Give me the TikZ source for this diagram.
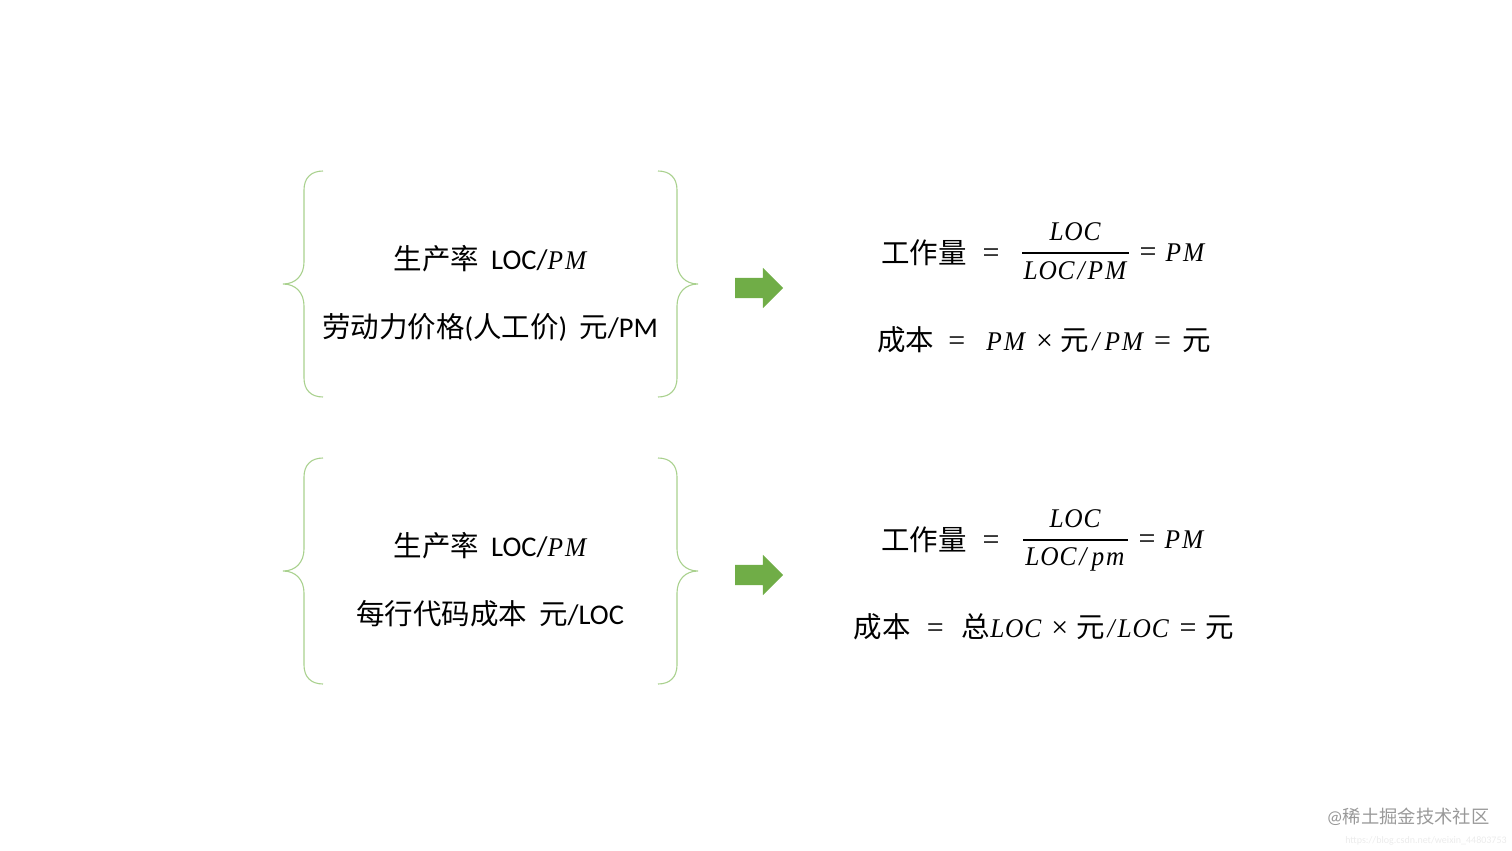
\documentclass[tikz,border=0pt]{standalone}
\usepackage{fontspec}
\setmainfont{Carlito}
\newfontfamily\cjk{Noto Sans CJK SC}
\newfontfamily\vfont[LetterSpace=3,FakeStretch=0.94]{Liberation Serif}
\newfontfamily\sfont{Liberation Serif}
\usepackage{tikz}
\usetikzlibrary{shapes.arrows}
\definecolor{bracegreen}{HTML}{A9D18E}
\definecolor{arrowgreen}{HTML}{70AD47}
\newcommand{\zh}[1]{{\cjk #1}}
\newcommand{\va}[1]{{\fontsize{27}{30}\selectfont\vfont\itshape #1}}
\newcommand{\sy}[1]{{\fontsize{30}{34}\selectfont\sfont #1}}
\newcommand{\slsh}{\hspace{3pt}/\hspace{3pt}}
\newcommand{\pmu}{P\hspace{2pt}M}
\tikzset{
    x=1pt, y=-1pt,
    brace/.style={draw=bracegreen, line width=1.1pt},
    txt/.style={inner sep=0pt, text=black, font=\fontsize{28.5}{34}\selectfont},
    bigarrow/.style={shape=single arrow, fill=arrowgreen, inner sep=0pt, minimum height=48pt, single arrow head extend=10pt, single arrow head indent=0pt}}

\begin{document}
\begin{tikzpicture}

            \useasboundingbox (0,0) rectangle (1512,851);

            % upper braces
            \draw[brace] (323,171) .. controls (311,171) and (304,178) .. (304,190) -- (304,262) .. controls (304,275) and (296,284) .. (283,284) .. controls (296,284) and (304,293) .. (304,306) -- (304,378) .. controls (304,390) and (311,397) .. (323,397);
            \draw[brace] (658,171) .. controls (670,171) and (677,178) .. (677,190) -- (677,262) .. controls (677,275) and (685,284) .. (698,284) .. controls (685,284) and (677,293) .. (677,306) -- (677,378) .. controls (677,390) and (670,397) .. (658,397);

            % lower braces
            \draw[brace] (323,458) .. controls (311,458) and (304,465) .. (304,477) -- (304,549) .. controls (304,562) and (296,571) .. (283,571) .. controls (296,571) and (304,580) .. (304,593) -- (304,665) .. controls (304,677) and (311,684) .. (323,684);
            \draw[brace] (658,458) .. controls (670,458) and (677,465) .. (677,477) -- (677,549) .. controls (677,562) and (685,571) .. (698,571) .. controls (685,571) and (677,580) .. (677,593) -- (677,665) .. controls (677,677) and (670,684) .. (658,684);

            \node[txt] (rateA) at (490,259) {\zh{生产率}\hspace{12pt}LOC/\va{\pmu}};
            \node[txt] (priceA) at (490,327) {\zh{劳动力价格}(\zh{人工价})\hspace{12pt}\zh{元}/PM};
            \node[txt] (rateB) at (490,546) {\zh{生产率}\hspace{12pt}LOC/\va{\pmu}};
            \node[txt] (priceB) at (490,614) {\zh{每行代码成本}\hspace{12pt}\zh{元}/LOC};

            \node[bigarrow] (arrowA) at (754,288) {\rule{0pt}{20pt}};
            \node[bigarrow] (arrowB) at (754,575) {\rule{0pt}{20pt}};

            \node[txt] (workA) at (924,253) {\zh{工作量}};
            \node[txt] (eqA) at (991,256) {\sy{=}};
            \node[txt] (numA) at (1075,232) {\va{LOC}};
            \node[txt] (denA) at (1075,271) {\va{LOC\slsh\pmu}};
            \node[txt] (resA) at (1172,253) {\sy{=}\hspace{9pt}\va{\pmu}};
            \coordinate (barAl) at (1022,253);
            \coordinate (barAr) at (1129,253);
            \draw[line width=1.3pt] (barAl) -- (barAr);
            \node[txt] (costA) at (1044,340) {\zh{成本}\hspace{14pt}\sy{=}\hspace{21pt}\va{\pmu}\hspace{11pt}\sy{×}\hspace{8pt}\zh{元}\va{\slsh\hspace{2pt}\pmu}\hspace{11pt}\sy{=}\hspace{11pt}\zh{元}};

            \node[txt] (workB) at (924,540) {\zh{工作量}};
            \node[txt] (eqB) at (991,543) {\sy{=}};
            \node[txt] (numB) at (1075,519) {\va{LOC}};
            \node[txt] (denB) at (1075,559) {\va{LOC\slsh\hspace{2pt}p\hspace{2pt}m}};
            \node[txt] (resB) at (1171,540) {\sy{=}\hspace{9pt}\va{\pmu}};
            \coordinate (barBl) at (1023,540);
            \coordinate (barBr) at (1128,540);
            \draw[line width=1.3pt] (barBl) -- (barBr);
            \node[txt] (costB) at (1044,627) {\zh{成本}\hspace{16pt}\sy{=}\hspace{18pt}\zh{总}\va{LOC}\hspace{10pt}\sy{×}\hspace{8pt}\zh{元}\va{\slsh LOC}\hspace{11pt}\sy{=}\hspace{9pt}\zh{元}};

            \node[inner sep=0pt, text=black!40, font=\fontsize{18.3}{22}\selectfont] (markA) at (1408,817) {@\zh{稀土掘金技术社区}};
            \node[inner sep=0pt, text=black!8, font=\fontsize{10}{12}\selectfont] (markB) at (1426,841) {https://blog.csdn.net/weixin\_44803753};

        \end{tikzpicture}
\end{document}
